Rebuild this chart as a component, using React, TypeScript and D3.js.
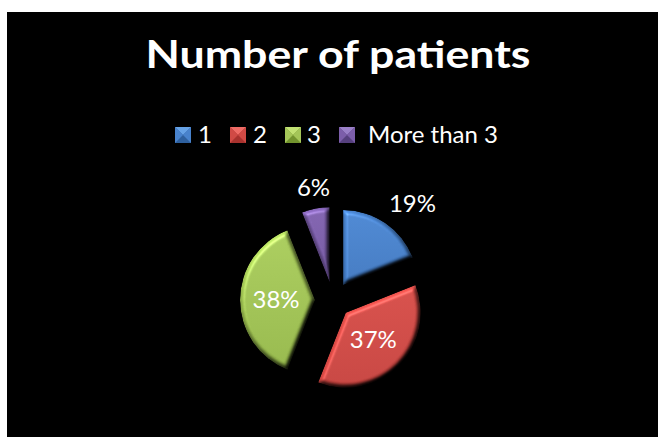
import React from "react";
import * as d3 from "d3";

const categories = ["1", "2", "3", "More than 3"];
const values = [19, 37, 38, 6];
const colors = ["#4882cc", "#d04a45", "#a4c658", "#7c5eaa"];
const lightColors = ["#66a2e6", "#ee6c66", "#c2e274", "#9a80c8"];
const darkColors = ["#2e609e", "#a8322e", "#73942e", "#56407e"];
const title = "Number of patients";

const W = 658;
const H = 437;

export default function App() {
  const cx = 333;
  const cy = 300;
  const r = 75;
  const explode = 18;
  const pie = d3.pie<number>().sort(null).value((d) => d)(values);
  const arc = d3.arc<d3.PieArcDatum<number>>().innerRadius(0).outerRadius(r);
  const total = d3.sum(values);
  const fmt = (v: number) => `${Math.round((v / total) * 100)}%`;

  const legendY = 135;
  const legendItems = [
    { mx: 175, tx: 198 },
    { mx: 230, tx: 253 },
    { mx: 285, tx: 307 },
    { mx: 339, tx: 368 },
  ];

  const font = "Lato, 'Open Sans', sans-serif";

  return (
    <svg
      width={W}
      height={H}
      style={{ position: "absolute", left: 0, top: 0, display: "block" }}
    >
      <defs>
        <filter
          id="bevel"
          x="-15%"
          y="-15%"
          width="130%"
          height="130%"
          colorInterpolationFilters="sRGB"
        >
          <feGaussianBlur in="SourceAlpha" stdDeviation="2.2" result="blur" />
          <feDiffuseLighting
            in="blur"
            surfaceScale="4"
            diffuseConstant="1"
            lightingColor="#ffffff"
            result="diff"
          >
            <feDistantLight azimuth="235" elevation="55" />
          </feDiffuseLighting>
          <feComposite
            in="SourceGraphic"
            in2="diff"
            operator="arithmetic"
            k1="1.22"
            k2="0"
            k3="0"
            k4="0"
            result="lit"
          />
          <feSpecularLighting
            in="blur"
            surfaceScale="4"
            specularConstant="0.35"
            specularExponent="24"
            lightingColor="#ffffff"
            result="spec"
          >
            <feDistantLight azimuth="235" elevation="50" />
          </feSpecularLighting>
          <feComposite in="spec" in2="SourceAlpha" operator="in" result="specIn" />
          <feComposite
            in="lit"
            in2="specIn"
            operator="arithmetic"
            k1="0"
            k2="1"
            k3="0.45"
            k4="0"
            result="out"
          />
          <feComposite in="out" in2="SourceAlpha" operator="in" />
        </filter>
        {colors.map((c, i) => (
          <linearGradient key={i} id={`g${i}`} x1="0" y1="0" x2="0" y2="1">
            <stop offset="0%" stopColor={c} />
            <stop offset="100%" stopColor={d3.interpolateRgb(c, darkColors[i])(0.4)} />
          </linearGradient>
        ))}
      </defs>
      <rect x={0} y={0} width={W} height={H} fill="#ffffff" />
      <rect x={7} y={12} width={W - 7} height={H - 12} fill="#000000" />

      <text
        x={338}
        y={68}
        textAnchor="middle"
        fill="#ffffff"
        fontFamily={font}
        fontWeight="bold"
        fontSize={38}
        textLength={385}
        lengthAdjust="spacingAndGlyphs"
      >
        {title}
      </text>

      {categories.map((cat, i) => {
        const it = legendItems[i];
        const s = 16;
        const x0 = it.mx;
        const y0 = legendY - 8;
        const c = s / 2;
        return (
          <g key={cat}>
            <rect x={x0} y={y0} width={s} height={s} fill={darkColors[i]} />
            <path
              d={`M${x0},${y0}L${x0 + s},${y0}L${x0 + c},${y0 + c}Z`}
              fill={lightColors[i]}
            />
            <path
              d={`M${x0},${y0}L${x0 + c},${y0 + c}L${x0},${y0 + s}Z`}
              fill={colors[i]}
            />
            <path
              d={`M${x0 + s},${y0}L${x0 + c},${y0 + c}L${x0 + s},${y0 + s}Z`}
              fill={colors[i]}
            />
            <text
              x={it.tx}
              y={legendY + 8}
              fill="#ffffff"
              fontFamily={font}
              fontSize={24}
            >
              {cat}
            </text>
          </g>
        );
      })}

      {pie.map((d, i) => {
        const mid = (d.startAngle + d.endAngle) / 2;
        const ux = Math.sin(mid);
        const uy = -Math.cos(mid);
        const dx = ux * explode;
        const dy = uy * explode;
        const frac = d.value / total;
        const label = fmt(d.value);
        const tw = label.length * 13 + 3;
        const th = 15;
        let lx: number;
        let ly: number;
        if (frac >= 0.25) {
          lx = ux * r * 0.52;
          ly = uy * r * 0.52 + 8;
        } else {
          const dist = r + 11;
          const ax = ux * dist;
          const ay = uy * dist;
          const sx = ux > 0.35 ? 1 : ux < -0.35 ? -1 : 0;
          const sy = uy > 0.35 ? 1 : uy < -0.35 ? -1 : 0;
          lx = ax + (sx * tw) / 2;
          ly = ay + (sy * th) / 2 + 8 - 2;
        }
        return (
          <g key={i} transform={`translate(${cx + dx},${cy + dy})`}>
            <path d={arc(d) || ""} fill={`url(#g${i})`} filter="url(#bevel)" />
            <text
              x={lx}
              y={ly}
              textAnchor="middle"
              fill="#ffffff"
              fontFamily={font}
              fontSize={24}
            >
              {label}
            </text>
          </g>
        );
      })}
    </svg>
  );
}
